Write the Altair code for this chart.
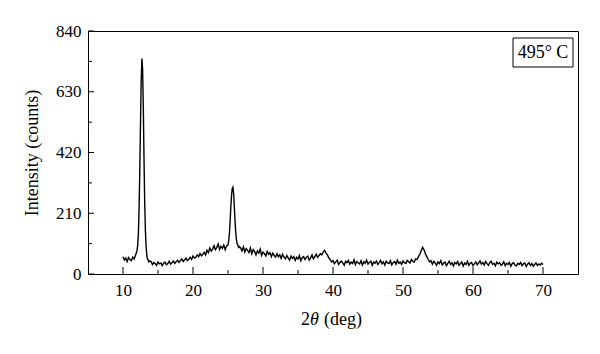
import altair as alt
import pandas as pd

# XRD pattern: (start 2theta, step, intensities)
seg_starts = [10.0, 12.0, 14.0, 25.0, 26.8, 38.0, 40.0, 52.0, 54.2]
seg_steps = [0.2, 0.1, 0.2, 0.1, 0.2, 0.2, 0.2, 0.2, 0.2]
seg_values = [
    [60, 48, 55, 43, 57, 50, 46, 58, 52, 66],
    [80, 100, 140, 230, 360, 520, 670, 745, 710, 580, 400, 250, 150, 95, 65, 52, 48, 42, 45],
    [44, 33, 40, 36, 30, 42, 35, 38, 29, 37, 41, 32, 36, 44, 34, 39, 45, 37, 42, 48,
     40, 47, 52, 43, 49, 55, 46, 51, 58, 50,
     62, 55, 58, 66, 60, 71, 63, 68, 75, 66, 82, 74, 90, 79, 86, 98, 84, 92, 104, 85,
     96, 88, 100, 84, 97],
    [100, 115, 140, 180, 230, 270, 295, 300, 280, 235, 185, 145, 120, 105, 100, 92, 95],
    [90, 80, 94, 76, 88, 82, 74, 90, 70, 84, 78, 66, 80, 72, 86, 64, 76, 70, 62, 78,
     68, 74, 60, 72, 64, 58,
     70, 60, 66, 54, 68, 58, 52, 64, 56, 48, 62, 54, 60, 47, 58, 52, 64, 46, 56, 60,
     50, 58, 62, 48, 56, 66, 52, 60, 68, 58],
    [64, 70, 66, 76, 82, 72, 66, 56, 50, 42],
    [46, 36, 42, 48, 33, 40, 45, 38, 30, 44, 39, 47, 34, 41, 36, 49, 32, 43, 38, 35,
     46, 31, 42, 37, 48, 34, 40, 44, 30, 41, 37, 45, 33, 39, 47, 35, 42, 31, 44, 38,
     36, 46, 32, 40, 43, 34, 48, 37, 41, 33, 45, 39, 36, 47, 42, 38, 50, 44, 41, 52],
    [50, 60, 68, 80, 92, 84, 70, 60, 50, 42, 46],
    [34, 44, 38, 30, 42, 36, 46, 31, 38, 41, 29, 37, 44, 33, 39, 28, 40, 35, 43, 30,
     36, 41, 27, 38, 33, 44, 30, 37, 40, 29, 35, 42, 32, 38, 45, 34, 40, 31, 43, 36,
     30, 39, 44, 33, 37, 28, 41, 35, 39, 30, 34, 42, 29, 37, 33, 40, 27, 36, 39, 31,
     28, 37, 33, 40, 29, 35, 38, 26, 34, 39, 30, 36, 27, 33, 38, 29, 35, 31, 37, 33],
]

x_major = [10, 20, 30, 40, 50, 60, 70]
x_minor = [15, 25, 35, 45, 55, 65]
y_major = [0, 210, 420, 630, 840]
y_minor = [105, 315, 525, 735]
legend_label = ["495° C"]
x_title_parts = ["2", "θ", "(deg)"]

rows = []
for s, st, vals in zip(seg_starts, seg_steps, seg_values):
    for i, v in enumerate(vals):
        rows.append({"tt": round(s + i * st, 2), "I": v})
df = pd.DataFrame(rows)

W, H = 490, 243
FONT = "Liberation Serif"
xs = alt.Scale(domain=[5, 75], nice=False, zero=False)
ys = alt.Scale(domain=[0, 840], nice=False)

line = alt.Chart(df).mark_line(color="black", strokeWidth=1.4).encode(
    x=alt.X("tt:Q", scale=xs, axis=alt.Axis(values=x_major, title=None, labelPadding=8)),
    y=alt.Y("I:Q", scale=ys, axis=alt.Axis(
        values=y_major, title="Intensity (counts)", labelPadding=7,
        titleX=-56, titleY=H / 2, titleAlign="center", titleBaseline="middle",
        titleAngle=270, titleFontSize=18)),
)

xmaj = alt.Chart(pd.DataFrame({"v": x_major})).mark_rule(color="black").encode(
    x=alt.X("v:Q", scale=xs), y=alt.value(H), y2=alt.value(H - 7))
xmin = alt.Chart(pd.DataFrame({"v": x_minor})).mark_rule(color="black").encode(
    x=alt.X("v:Q", scale=xs), y=alt.value(H), y2=alt.value(H - 4))
ymaj = alt.Chart(pd.DataFrame({"v": y_major})).mark_rule(color="black").encode(
    y=alt.Y("v:Q", scale=ys), x=alt.value(0), x2=alt.value(6))
ymin = alt.Chart(pd.DataFrame({"v": y_minor})).mark_rule(color="black").encode(
    y=alt.Y("v:Q", scale=ys), x=alt.value(0), x2=alt.value(4))

# x-axis title with italic theta, built from three text pieces
t_y = H + 46
tdf = pd.DataFrame({"t": x_title_parts})
t1 = alt.Chart(tdf.iloc[[0]]).mark_text(font=FONT, fontSize=18, color="black",
                                         align="right", baseline="middle").encode(
    x=alt.value(222), y=alt.value(t_y), text="t:N")
t2 = alt.Chart(tdf.iloc[[1]]).mark_text(font=FONT, fontSize=18, fontStyle="italic",
                                         color="black", align="left",
                                         baseline="middle").encode(
    x=alt.value(222), y=alt.value(t_y), text="t:N")
t3 = alt.Chart(tdf.iloc[[2]]).mark_text(font=FONT, fontSize=18, color="black",
                                         align="left", baseline="middle").encode(
    x=alt.value(236), y=alt.value(t_y), text="t:N")

leg_df = pd.DataFrame({"label": legend_label})
leg_box = alt.Chart(leg_df).mark_rect(fill="white", stroke="black", strokeWidth=1).encode(
    x=alt.value(425), x2=alt.value(485), y=alt.value(7), y2=alt.value(36))
leg_txt = alt.Chart(leg_df).mark_text(font=FONT, fontSize=18, color="black",
                                      align="center", baseline="middle").encode(
    x=alt.value(455), y=alt.value(22), text="label:N")

chart = alt.layer(line, xmaj, xmin, ymaj, ymin, t1, t2, t3, leg_box, leg_txt).properties(
    width=W, height=H,
    autosize=alt.AutoSizeParams(type="none"),
    padding={"left": 80, "top": 23, "right": 13, "bottom": 72},
).configure_view(stroke="black", strokeWidth=1).configure_axis(
    ticks=False, tickSize=0, domain=False, grid=False,
    labelFont=FONT, labelFontSize=17, labelColor="black",
    titleFont=FONT, titleFontWeight="normal", titleColor="black",
)

chart.save("out.html", embed_options={"renderer": "svg", "actions": False})
